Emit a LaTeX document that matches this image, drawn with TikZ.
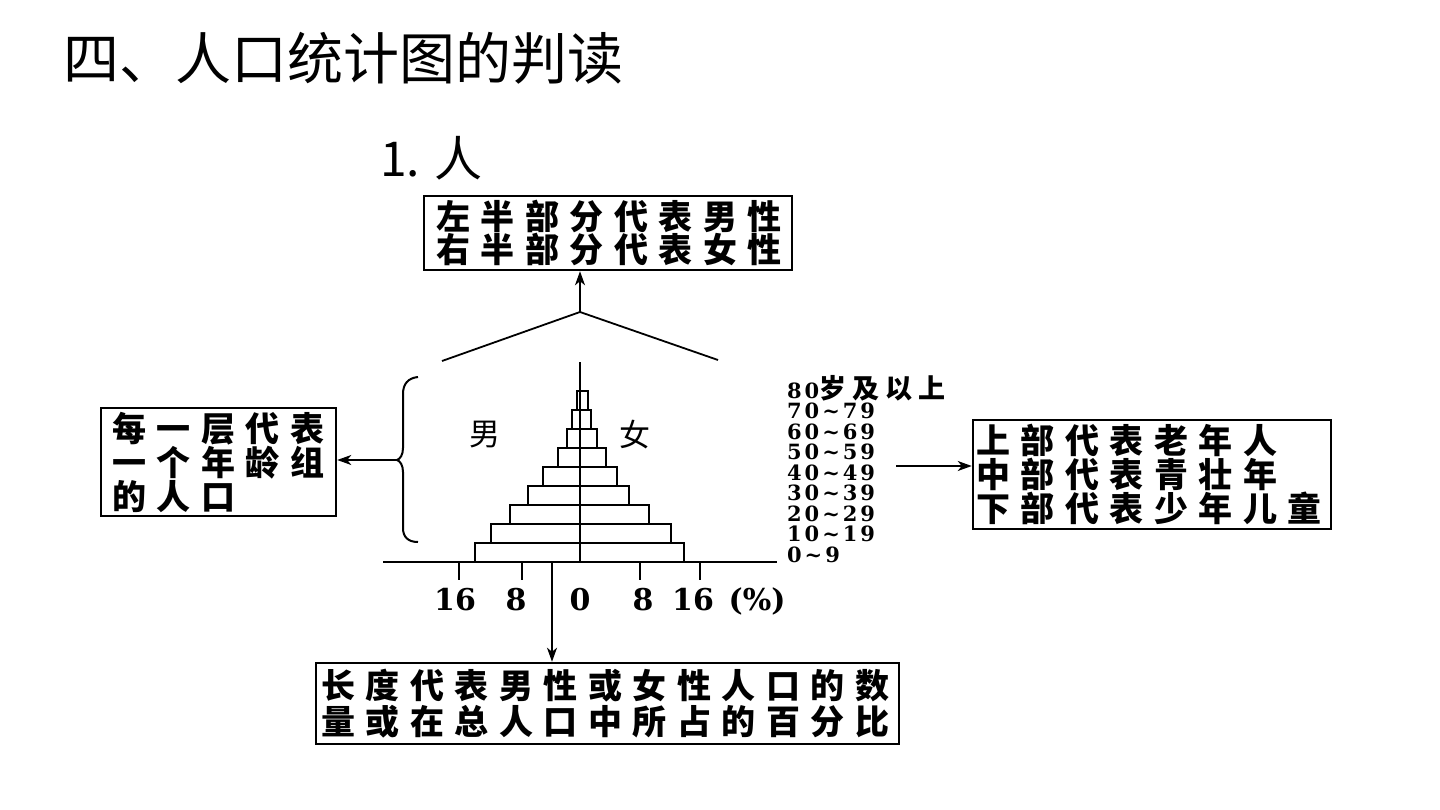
\documentclass[tikz,border=0pt]{standalone}
\usepackage{fontspec}
\usetikzlibrary{arrows.meta}
\newfontfamily\cjk{Noto Sans CJK SC}
\newfontfamily\cjkls{Noto Sans CJK SC}[LetterSpace=31]
\newfontfamily\cjkage{Noto Sans CJK SC}[LetterSpace=22]
\newfontfamily\serifnum{DejaVu Serif}
\newfontfamily\serifage{DejaVu Serif}[LetterSpace=14]
\hfuzz=200pt
\begin{document}
\begin{tikzpicture}[x=1pt,y=-1pt,
  box/.style={draw, line width=2.5pt, inner ysep=0pt, align=left},
  boxfont/.style={font=\cjkls\bfseries\fontsize{34}{#1}\selectfont},
  arr/.style={-{Stealth[length=14pt,width=10pt,inset=4pt]}, line width=1.6pt},
  axis/.style={line width=2.2pt},
  bar/.style={line width=2pt},
  age/.style={anchor=base west, inner sep=0pt, font=\serifage\bfseries\fontsize{21}{21}\selectfont},
  num/.style={anchor=base, inner sep=0pt, font=\serifnum\bfseries\fontsize{30}{30}\selectfont},
  sex/.style={inner sep=0pt, font=\cjk\fontsize{31}{31}\selectfont}
]
\useasboundingbox (0,0) rectangle (1440,810);
\fill[white] (0,0) rectangle (1440,810);

% titles
\node[anchor=west, inner sep=0pt, font=\cjk\fontsize{56}{56}\selectfont] (title) at (63,58) {四、人口统计图的判读};
\node[anchor=west, inner sep=0pt, font=\cjk\fontsize{48}{48}\selectfont] (sub) at (380,158) {1. 人};

% boxes
\node[box, boxfont=30, minimum height=74pt, text width=344pt, inner xsep=12pt] (topbox) at (608,233) {左半部分代表男性\\右半部分代表女性};
\node[box, boxfont=34, minimum height=108pt, text width=213pt, inner xsep=11pt] (lbox) at (218.5,462) {每一层代表\\一个年龄组\\的人口};
\node[box, boxfont=32, minimum height=109pt, text width=352pt, inner xsep=3pt] (rbox) at (1152,474.5) {上部代表老年人\\中部代表青壮年\\下部代表少年儿童};
\node[box, boxfont=36, minimum height=81pt, text width=573pt, inner xsep=5pt] (bbox) at (607.5,703.5) {长度代表男性或女性人口的数\\量或在总人口中所占的百分比};

% pyramid bars
\draw[bar] (475,543) rectangle (684,562);
\draw[bar] (491,524) rectangle (671,543);
\draw[bar] (510,505) rectangle (649,524);
\draw[bar] (528,486) rectangle (629,505);
\draw[bar] (543,467) rectangle (617,486);
\draw[bar] (558,448) rectangle (606,467);
\draw[bar] (567,429) rectangle (597,448);
\draw[bar] (572,410) rectangle (591,429);
\draw[bar] (577,391) rectangle (588,410);

% axes
\draw[axis] (383,562) -- (777,562);
\draw[axis] (580,362) -- (580,562);
\foreach \x in {459,522,640,700} \draw[axis] (\x,562) -- (\x,580);

% axis numbers
\node[num] (n16l) at (455,610) {16};
\node[num] (n8l) at (516,610) {8};
\node[num] (n0) at (580,610) {0};
\node[num] (n8r) at (643,610) {8};
\node[num] (n16r) at (693,610) {16};
\node[num] (npc) at (757,610) {(\%)};

% sexes
\node[sex] (male) at (485,435) {男};
\node[sex] (female) at (635,435) {女};

% age labels
\node[age] (a8) at (787,398) {80{\cjkage\bfseries\fontsize{27}{27}\selectfont 岁及以上}};
\node[age] (a7) at (787,418.5) {70\textasciitilde79};
\node[age] (a6) at (787,439) {60\textasciitilde69};
\node[age] (a5) at (787,459.5) {50\textasciitilde59};
\node[age] (a4) at (787,480) {40\textasciitilde49};
\node[age] (a3) at (787,500.5) {30\textasciitilde39};
\node[age] (a2) at (787,521) {20\textasciitilde29};
\node[age] (a1) at (787,541.5) {10\textasciitilde19};
\node[age] (a0) at (787,562) {0\textasciitilde9};

% top fork and arrow
\coordinate (apex) at (580,312);
\coordinate (forkl) at (442,361);
\coordinate (forkr) at (718,360);
\draw[line width=1.8pt] (forkl) -- (apex) -- (forkr);
\draw[arr] (apex) -- (apex |- topbox.south);

% brace and arrow
\coordinate (bracetip) at (397,460);
\draw[line width=2pt] (418,377) .. controls (408,378) and (403,384) .. (403,394) -- (403,448) .. controls (403,455) and (400,459) .. (bracetip) .. controls (400,461) and (403,465) .. (403,472) -- (403,528) .. controls (403,537) and (408,542) .. (418,542);
\draw[arr] (bracetip) -- (bracetip -| lbox.east);

% right arrow
\coordinate (rstart) at (896,466);
\draw[arr] (rstart) -- (rstart -| rbox.west);

% bottom arrow
\coordinate (bstart) at (552,562);
\draw[arr] (bstart) -- (bstart |- bbox.north);
\end{tikzpicture}
\end{document}
